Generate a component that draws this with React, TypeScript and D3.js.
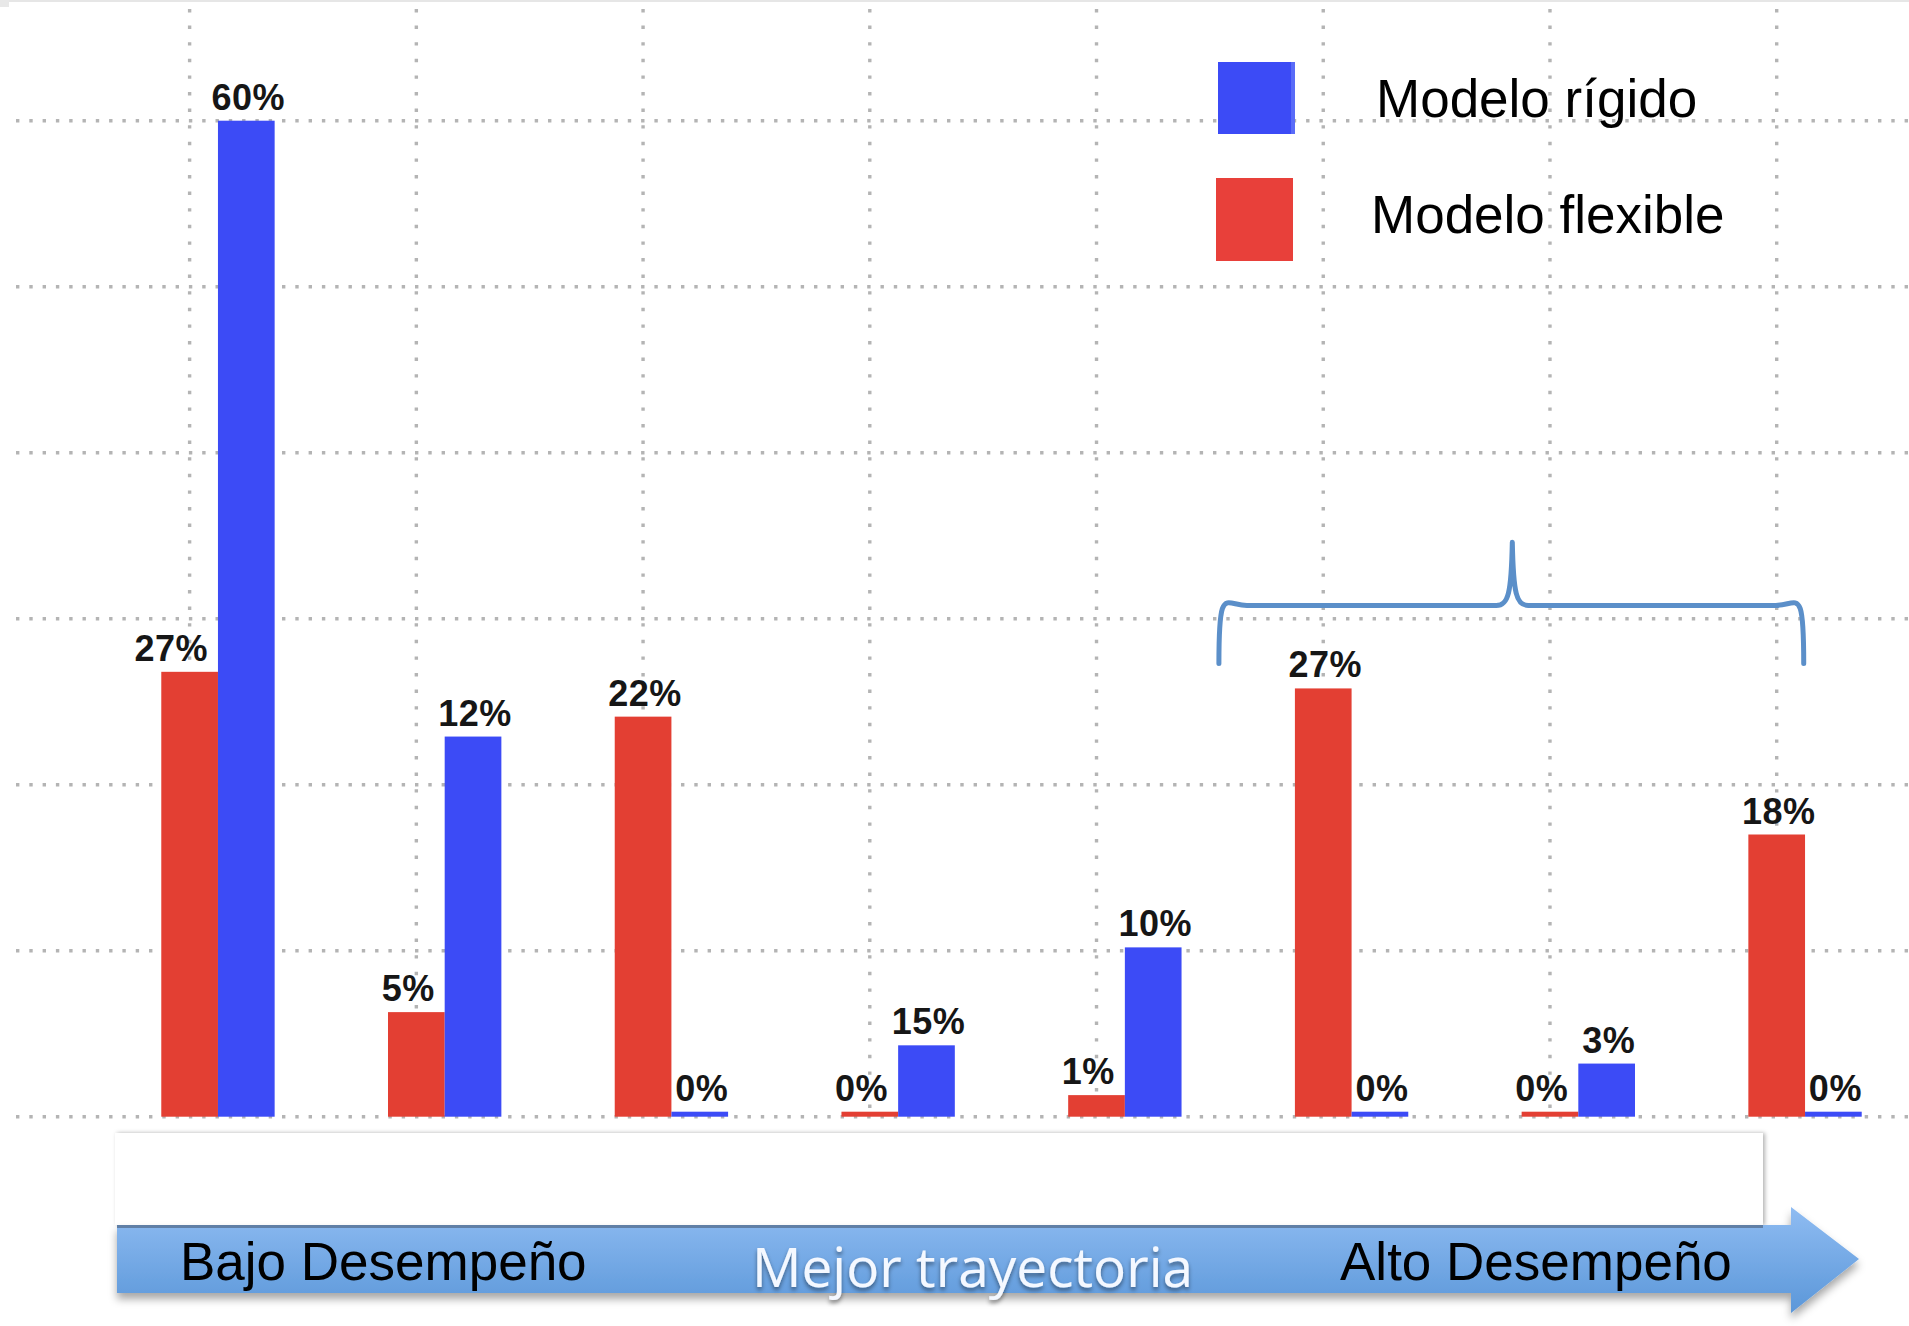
import { scaleBand, scaleLinear } from "d3";

// bar heights as drawn (percent), label texts as printed
const categories = ["g1", "g2", "g3", "g4", "g5", "g6", "g7", "g8"];
const flexibleValues = [26.8, 6.3, 24.1, 0, 1.3, 25.8, 0, 17.0];
const rigidValues = [60.0, 22.9, 0, 4.3, 10.2, 0, 3.2, 0];
const flexibleLabels = ["27%", "5%", "22%", "0%", "1%", "27%", "0%", "18%"];
const rigidLabels = ["60%", "12%", "0%", "15%", "10%", "0%", "3%", "0%"];
const yTicks = [0, 10, 20, 30, 40, 50, 60];
const seriesKeys = ["flexible", "rigid"];
const legendItems = ["Modelo rígido", "Modelo flexible"];
const arrowLabels = ["Bajo Desempeño", "Mejor trayectoria", "Alto Desempeño"];

const W = 1909;
const H = 1326;
const RED = "#e33f33";
const BLUE = "#3c4bf6";
const GRID = "#b4b4b4";
const SANS = "'Liberation Sans', Arial, sans-serif";

export default function App() {
  const x = scaleBand<string>(categories, [104.6, 1918.4]).paddingInner(0.5).paddingOuter(0.25);
  const sub = scaleBand<string>(seriesKeys, [0, x.bandwidth()]);
  const y = scaleLinear([0, 60], [1116.7, 120.7]);
  const base = y(0);
  const bw = sub.bandwidth();

  const barTop = (v: number) => Math.min(y(v), base - 5);

  // brace over the last three groups
  const bL = (x(categories[5]) ?? 0) - 76;
  const bR = (x(categories[7]) ?? 0) + x.bandwidth() - 58;
  const bM = (bL + bR) / 2 + 1;
  const bTop = y(30.8);
  const bEnd = y(27.3);
  const bPeak = y(34.6);
  const brace = `M${bL},${bEnd} C${bL},${bTop - 22} ${bL + 6},${bTop} ${bL + 28},${bTop} L${bM - 16},${bTop} C${bM - 4},${bTop} ${bM - 1},${bTop - 12} ${bM},${bPeak} C${bM + 1},${bTop - 12} ${bM + 4},${bTop} ${bM + 16},${bTop} L${bR - 28},${bTop} C${bR - 6},${bTop} ${bR},${bTop - 22} ${bR},${bEnd}`;

  // bottom arrow
  const aTop = 1225;
  const aBot = 1293;
  const aMid = (aTop + aBot) / 2;
  const aHeadX = 1791;
  const aTip = 1859;
  const arrow = `M117,${aTop} L${aHeadX},${aTop} L${aHeadX},${aMid - 52} L${aTip},${aMid} L${aHeadX},${aMid + 54} L${aHeadX},${aBot} L117,${aBot} Z`;

  return (
    <div style={{ position: "absolute", left: 0, top: 0 }}>
      <svg width={W} height={H} style={{ display: "block", background: "#fff" }}>
        <defs>
          <linearGradient id="arrowFill" x1="0" y1="0" x2="0" y2="1">
            <stop offset="0%" stopColor="#8fbcf2" />
            <stop offset="100%" stopColor="#5b97d9" />
          </linearGradient>
          <filter id="arrowShadow" x="-5%" y="-50%" width="110%" height="200%">
            <feDropShadow dx="0" dy="6" stdDeviation="4" floodColor="#000" floodOpacity="0.35" />
          </filter>
          <filter id="boxShadow" x="-5%" y="-20%" width="110%" height="140%">
            <feDropShadow dx="2" dy="0" stdDeviation="2" floodColor="#000" floodOpacity="0.3" />
          </filter>
          <filter id="textShadow" x="-10%" y="-30%" width="120%" height="160%">
            <feDropShadow dx="0" dy="3" stdDeviation="2" floodColor="#000" floodOpacity="0.45" />
          </filter>
        </defs>

        <rect x={0} y={0} width={W} height={2} fill="#e6e6e6" />
        <rect x={0} y={0} width={9} height={7} fill="#e8e8e8" />

        {/* grid */}
        {yTicks.map((t) => (
          <line
            key={`h${t}`}
            x1={16}
            x2={W}
            y1={y(t)}
            y2={y(t)}
            stroke={GRID}
            strokeWidth={3.4}
            strokeDasharray="3.4 9.9"
          />
        ))}
        {categories.map((c) => {
          const gx = (x(c) ?? 0) + (sub("flexible") ?? 0) + bw / 2;
          return (
            <line
              key={`v${c}`}
              x1={gx}
              x2={gx}
              y1={9}
              y2={base}
              stroke={GRID}
              strokeWidth={3.4}
              strokeDasharray="3.4 13.2"
            />
          );
        })}

        {/* bars */}
        {categories.map((c, i) => {
          const x0 = x(c) ?? 0;
          const fx = x0 + (sub("flexible") ?? 0);
          const rx = x0 + (sub("rigid") ?? 0);
          const fTop = barTop(flexibleValues[i]);
          const rTop = barTop(rigidValues[i]);
          const redShift = rigidValues[i] > flexibleValues[i];
          return (
            <g key={c}>
              <rect x={fx} y={fTop} width={bw} height={base - fTop} fill={RED} />
              <rect x={rx} y={rTop} width={bw} height={base - rTop} fill={BLUE} />
              <text
                x={redShift ? fx + bw - 10 : fx + bw / 2 + 2}
                y={fTop - 11}
                textAnchor={redShift ? "end" : "middle"}
                fontFamily={SANS}
                fontWeight="bold"
                fontSize={36}
                letterSpacing={0.5}
                fill="#161616"
              >
                {flexibleLabels[i]}
              </text>
              <text
                x={rx + bw / 2 + 2}
                y={rTop - 11}
                textAnchor="middle"
                fontFamily={SANS}
                fontWeight="bold"
                fontSize={36}
                letterSpacing={0.5}
                fill="#161616"
              >
                {rigidLabels[i]}
              </text>
            </g>
          );
        })}

        {/* brace */}
        <path d={brace} fill="none" stroke="#5b8fc9" strokeWidth={5} strokeLinecap="round" strokeLinejoin="round" />

        {/* legend */}
        <rect x={1218} y={62} width={77} height={72} fill={BLUE} />
        <rect x={1291} y={62} width={4} height={72} fill="#5a6cf8" />
        <rect x={1216} y={178} width={77} height={83} fill="#e8403a" />
        <text x={1376} y={117} fontFamily={SANS} fontSize={53} fill="#000">
          {legendItems[0]}
        </text>
        <text x={1371} y={233} fontFamily={SANS} fontSize={53} fill="#000">
          {legendItems[1]}
        </text>

        {/* white panel and arrow */}
        <rect x={115} y={1133} width={1648} height={92} fill="#fff" filter="url(#boxShadow)" />
        <path d={arrow} fill="url(#arrowFill)" filter="url(#arrowShadow)" />
        <rect x={117} y={aTop} width={1646} height={3} fill="#607fa6" />
        <text x={180} y={1280} fontFamily={SANS} fontSize={53} fill="#000">
          {arrowLabels[0]}
        </text>
        <text
          x={752}
          y={1287}
          fontFamily="'Open Sans', 'Noto Sans', sans-serif"
          fontSize={55}
          fill="#f4f8ff"
          filter="url(#textShadow)"
        >
          {arrowLabels[1]}
        </text>
        <text x={1340} y={1280} fontFamily={SANS} fontSize={53} fill="#000">
          {arrowLabels[2]}
        </text>
      </svg>
    </div>
  );
}
